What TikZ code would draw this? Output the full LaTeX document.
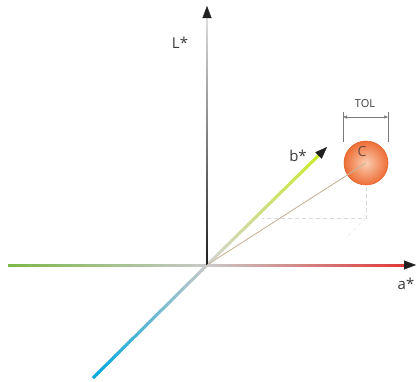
\documentclass[tikz,border=0pt]{standalone}
\usepackage{fontspec}
\setmainfont{Open Sans}
\usetikzlibrary{arrows.meta,calc}
\definecolor{axred}{HTML}{E03A3A}
\definecolor{axgreen}{HTML}{7DB84A}
\definecolor{axyel}{HTML}{C8EA2E}
\definecolor{axcyan}{HTML}{00A8DC}
\definecolor{axgray}{HTML}{C9C9C9}
\definecolor{axgraylt}{HTML}{DDDDDD}
\definecolor{axgraymd}{HTML}{D4D4D4}
\definecolor{axdark}{HTML}{202020}
\definecolor{tanline}{HTML}{C9B49C}
\definecolor{ballout}{HTML}{EE6E36}
\definecolor{ballin}{HTML}{FBCDB0}
\definecolor{ballrim}{HTML}{E0652E}
\definecolor{dimgray}{HTML}{7A7A7A}
\definecolor{dashgray}{HTML}{D9D9D9}
\definecolor{dashgraylt}{HTML}{EEEEEE}
\definecolor{lbl}{HTML}{3A3A3A}
\definecolor{clbl}{HTML}{6A4A3A}
\newcommand{\gradline}[5]{%
  \foreach \i in {0,...,59}{%
    \pgfmathsetmacro\pc{\i*100/59}%
    \pgfmathsetmacro\en{min((\i+1.4)/60,1)}%
    \draw[line width=#5, color=#4!\pc!#3] ($(#1)!\i/60!(#2)$) -- ($(#1)!\en!(#2)$);
  }}
\tikzset{
  tip/.style={-{Triangle[length=12pt,width=9pt]}, axdark, line width=0.3pt},
  axlabel/.style={text=lbl, font=\fontsize{15}{18}\selectfont, inner sep=0pt},
  dimline/.style={dimgray, line width=0.5pt},
  projline/.style={dashgray, line width=0.8pt, dash pattern=on 4pt off 3pt},
}
\begin{document}
\begin{tikzpicture}[x=1pt,y=-1pt]
\useasboundingbox (0,0) rectangle (417,381);
% key points
\coordinate (O) at (207,265);
\coordinate (Ltip) at (207,6);
\coordinate (Lend) at (207,16);
\coordinate (Atip) at (416,265);
\coordinate (Aend) at (405,265);
\coordinate (Aleft) at (8,265);
\coordinate (Btip) at (327,147);
\coordinate (Bend) at (319,155);
\coordinate (Bleft) at (93,378);
\coordinate (C) at (366,163);
% negative axes
\gradline{O}{Aleft}{axgray}{axgreen}{3pt}
\gradline{O}{Bleft}{axgray}{axcyan}{3pt}
% positive axes
\gradline{O}{Aend}{axgray}{axred}{3pt}
\gradline{O}{Bend}{axgraymd}{axyel}{3pt}
\gradline{O}{Lend}{axdark}{axgraylt}{2.6pt}
\draw[tip] (Lend) -- (Ltip);
\draw[tip] (Aend) -- (Atip);
\draw[tip] (Bend) -- (Btip);
% projection lines
\coordinate (P1) at (366,187);
\coordinate (P2) at (366,218);
\coordinate (P3) at (262,218);
\coordinate (P4) at (348,236);
\draw[projline] (P1) -- (P2) -- (P3);
\draw[projline, dashgraylt] (P2) -- (P4);
% ball
\shade[inner color=ballin, outer color=ballout] (C) circle (22);
\draw[ballrim, line width=0.6pt] (C) circle (22);
\draw[tanline, line width=0.9pt] (O) -- (C);
\node[text=clbl, font=\fontsize{14}{16}\selectfont, inner sep=0pt] (Clab) at (362,151) {C};
% tolerance dimension
\coordinate (T1) at (343,112);
\coordinate (T1b) at (343,142);
\coordinate (T2) at (388,112);
\coordinate (T2b) at (388,142);
\draw[dimline] (T1) -- (T1b);
\draw[dimline] (T2) -- (T2b);
\coordinate (D1) at (343,117);
\coordinate (D2) at (388,117);
\draw[dimline, {Triangle[length=4pt,width=3pt]}-{Triangle[length=4pt,width=3pt]}] (D1) -- (D2);
\node[text=lbl, font=\fontsize{11}{13}\selectfont, inner sep=0pt] (tol) at (365,104) {TOL};
% axis labels
\node[axlabel] (Llab) at (180,43) {L*};
\node[axlabel] (Blab) at (298,156) {b*};
\node[axlabel] (Alab) at (406,284) {a*};
\end{tikzpicture}
\end{document}
